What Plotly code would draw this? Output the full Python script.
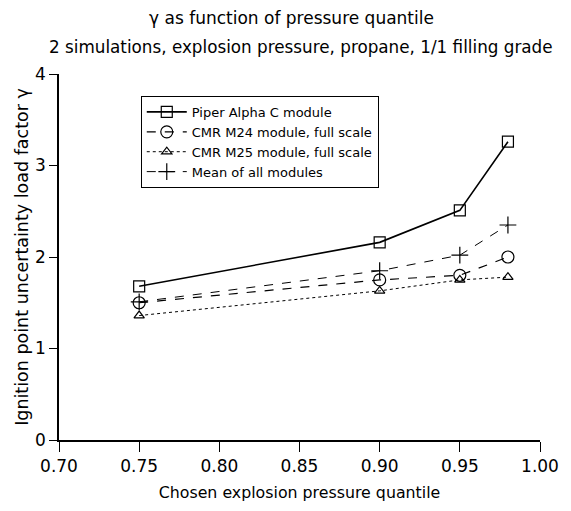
import plotly.graph_objects as go

quantiles = [0.75, 0.90, 0.95, 0.98]
piper = [1.68, 2.16, 2.51, 3.26]
cmr_m24 = [1.50, 1.75, 1.80, 2.00]
cmr_m25 = [1.36, 1.63, 1.75, 1.78]
mean_all = [1.51, 1.85, 2.02, 2.35]

names = ["Piper Alpha C module", "CMR M24 module, full scale",
         "CMR M25 module, full scale", "Mean of all modules"]

FONT = "DejaVu Sans, sans-serif"

fig = go.Figure()
styles = [
    (piper, "solid", "square-open", 11, 1.6),
    (cmr_m24, "dash", "circle-open", 12, 1.2),
    (cmr_m25, "dot", "triangle-up-open", 9, 1.0),
    (mean_all, "dash", "cross-thin-open", 12, 1.0),
]
for (vals, dash, sym, size, w), name in zip(styles, names):
    fig.add_trace(go.Scatter(
        x=quantiles, y=vals, name=name, mode="lines+markers",
        line=dict(color="black", width=w, dash=dash),
        marker=dict(symbol=sym, size=size, color="black",
                    line=dict(color="black", width=1.2)),
    ))

fig.update_layout(
    width=571, height=511,
    margin=dict(l=59, r=24, t=74, b=71),
    paper_bgcolor="white", plot_bgcolor="white",
    font=dict(family=FONT, color="black", size=15),
    showlegend=True,
    legend=dict(x=0.17, y=0.94, xanchor="left", yanchor="top",
                bordercolor="black", borderwidth=1, bgcolor="white",
                font=dict(size=13), tracegroupgap=0, itemwidth=40),
)
fig.add_annotation(text="γ as function of pressure quantile",
                   xref="paper", yref="paper", x=(295 - 59) / 488, y=1 + (74 - 18) / 366,
                   showarrow=False, font=dict(size=17), yanchor="middle")
fig.add_annotation(text="2 simulations, explosion pressure, propane, 1/1 filling grade",
                   xref="paper", yref="paper", x=(305 - 59) / 488, y=1 + (74 - 47) / 366,
                   showarrow=False, font=dict(size=16.8), yanchor="middle")

fig.update_xaxes(range=[0.70, 1.00], tickvals=[0.70, 0.75, 0.80, 0.85, 0.90, 0.95, 1.00],
                 ticktext=["0.70", "0.75", "0.80", "0.85", "0.90", "0.95", "1.00"],
                 showline=True, linecolor="black", linewidth=1.5, ticks="outside",
                 ticklen=10, tickcolor="black", showgrid=False, zeroline=False,
                 title=dict(text="Chosen explosion pressure quantile", font=dict(size=15.8), standoff=12),
                 tickfont=dict(size=17))
fig.update_yaxes(range=[0, 4], tickvals=[0, 1, 2, 3, 4],
                 showline=True, linecolor="black", linewidth=1.5, ticks="outside",
                 ticklen=8, tickcolor="black", showgrid=False, zeroline=False,
                 title=dict(text="Ignition point uncertainty load factor γ", font=dict(size=17.5), standoff=2),
                 tickfont=dict(size=17))

fig.write_html("out.html")
